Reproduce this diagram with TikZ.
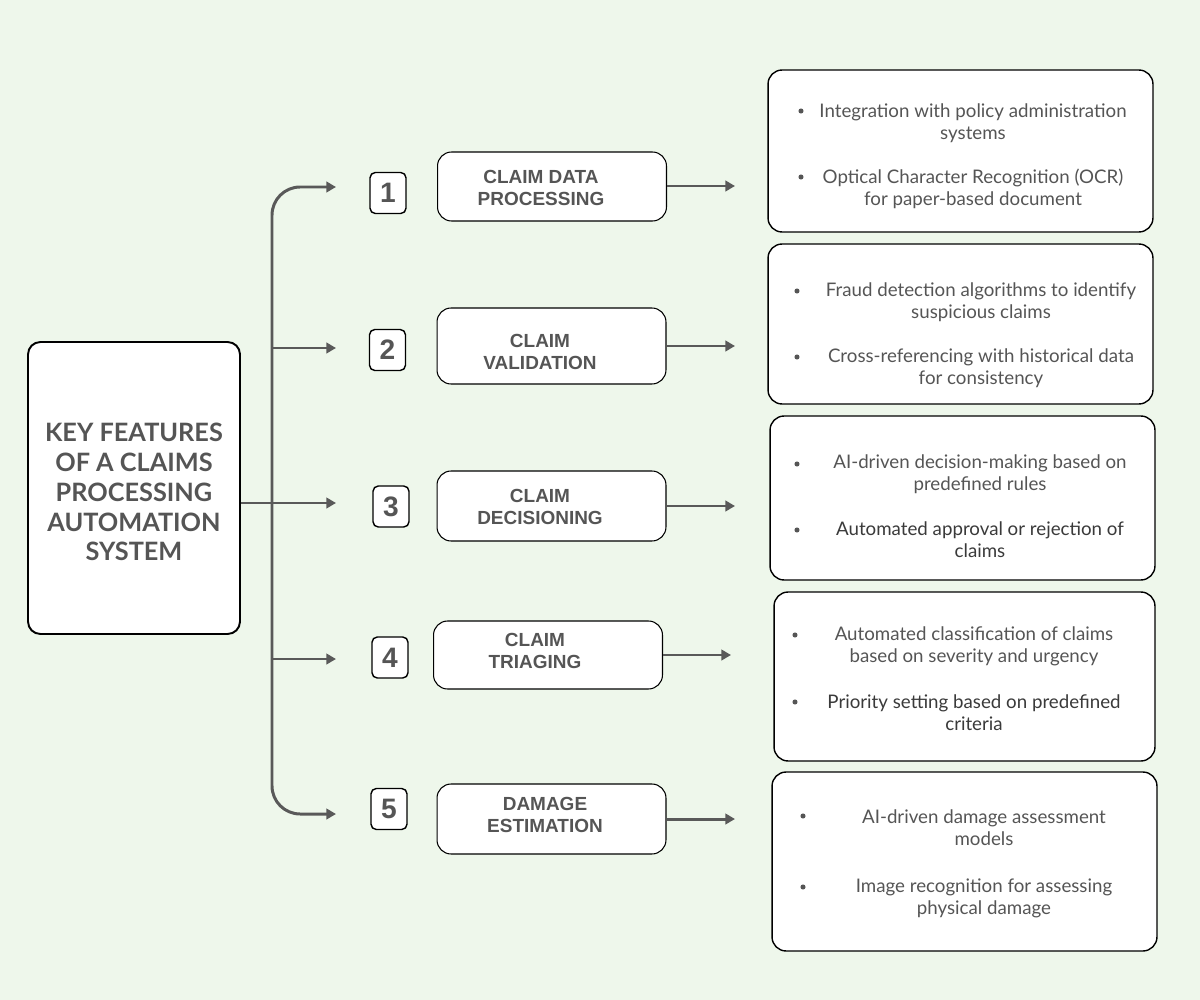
\documentclass[tikz,border=0pt]{standalone}
\usepackage{fontspec}
\setmainfont{Lato}
\newfontfamily\labfont{Liberation Sans}
\usetikzlibrary{arrows.meta}
\definecolor{bgc}{HTML}{EEF7EB}
\definecolor{linec}{HTML}{595959}
\definecolor{txtc}{HTML}{555555}
\definecolor{txtd}{HTML}{3A3A3A}
\tikzset{
  px/.style={x=0.02cm,y=-0.02cm},
  mainbox/.style={draw=black,line width=1.1pt,fill=white,rounded corners=7pt,minimum width=4.24cm,minimum height=5.84cm,inner sep=0pt},
  numbox/.style={draw=black,line width=0.8pt,fill=white,rounded corners=3pt,minimum width=0.72cm,minimum height=0.82cm,inner sep=0pt,text=txtc,font=\labfont\bfseries\fontsize{16}{18}\selectfont},
  labbox/.style={draw=black,line width=0.6pt,fill=white,rounded corners=8pt,minimum width=4.58cm,inner sep=0pt},
  labtxt/.style={text=txtc,align=center,font=\labfont\bfseries\fontsize{10.8}{12.5}\selectfont,inner sep=0pt},
  detbox/.style={draw=black,line width=0.8pt,fill=white,rounded corners=8pt,inner sep=0pt},
  btxt/.style={text=txtc,align=center,font=\fontsize{10.65}{12.6}\selectfont,inner sep=0pt},
  bdot/.style={circle,fill=txtc,minimum size=2.9pt,inner sep=0pt},
  conn/.style={draw=linec,line width=1.7pt,-{Triangle[length=5.5pt,width=6pt]}},
}
\begin{document}
\begin{tikzpicture}[px]
\fill[bgc] (0,0) rectangle (1200,1000);
\useasboundingbox (0,0) rectangle (1200,1000);

% main box
\node[mainbox] (main) at (134,488) {};
\node[text=txtc,align=center,font=\bfseries\fontsize{14.4}{17}\selectfont,inner sep=0pt] (maintxt) at (134,492) {KEY FEATURES\\OF A CLAIMS\\PROCESSING\\AUTOMATION\\SYSTEM};

% number boxes
\node[numbox] (n1) at (388,193) {1};
\node[numbox] (n2) at (387.5,350) {2};
\node[numbox] (n3) at (391,506.5) {3};
\node[numbox] (n4) at (390,657.5) {4};
\node[numbox] (n5) at (389,809) {5};

% label boxes
\node[labbox,minimum height=1.38cm] (l1) at (552,186.5) {};
\node[labbox,minimum height=1.52cm] (l2) at (551.5,346) {};
\node[labbox,minimum height=1.40cm] (l3) at (551.5,506) {};
\node[labbox,minimum height=1.36cm] (l4) at (548,655) {};
\node[labbox,minimum height=1.40cm] (l5) at (551.5,819) {};
\node[labtxt] (t1) at (541,188) {CLAIM DATA\\PROCESSING};
\node[labtxt] (t2) at (540,352) {CLAIM\\VALIDATION};
\node[labtxt] (t3) at (540,507) {CLAIM\\DECISIONING};
\node[labtxt] (t4) at (535,651) {CLAIM\\TRIAGING};
\node[labtxt] (t5) at (545,815) {DAMAGE\\ESTIMATION};

% detail boxes
\node[detbox,minimum width=7.7cm,minimum height=3.24cm] (d1) at (960.5,151) {};
\node[detbox,minimum width=7.7cm,minimum height=3.20cm] (d2) at (960.5,324) {};
\node[detbox,minimum width=7.7cm,minimum height=3.28cm] (d3) at (962.5,498) {};
\node[detbox,minimum width=7.62cm,minimum height=3.38cm] (d4) at (964.5,676.5) {};
\node[detbox,minimum width=7.7cm,minimum height=3.58cm] (d5) at (964.5,861.5) {};

% bullets box 1
\node[bdot] (b11) at (801,111) {};
\node[btxt] (x11) at (973,123) {Integration with policy administration\\systems};
\node[bdot] (b12) at (801,177) {};
\node[btxt] (x12) at (973,189) {Optical Character Recognition (OCR)\\for paper-based document};
% box 2
\node[bdot] (b21) at (797,291) {};
\node[btxt] (x21) at (981,302) {Fraud detection algorithms to identify\\suspicious claims};
\node[bdot] (b22) at (797,357) {};
\node[btxt] (x22) at (981,368) {Cross-referencing with historical data\\for consistency};
% box 3
\node[bdot] (b31) at (797,464) {};
\node[btxt] (x31) at (980,474) {AI-driven decision-making based on\\predefined rules};
\node[bdot] (b32) at (797,530) {};
\node[btxt,text=txtd] (x32) at (980,540) {Automated approval or rejection of\\claims};
% box 4
\node[bdot] (b41) at (795,635) {};
\node[btxt] (x41) at (974,646) {Automated classification of claims\\based on severity and urgency};
\node[bdot] (b42) at (795,702) {};
\node[btxt,text=txtd] (x42) at (974,713) {Priority setting based on predefined\\criteria};
% box 5
\node[bdot] (b51) at (803,816) {};
\node[btxt] (x51) at (984,828) {AI-driven damage assessment\\models};
\node[bdot] (b52) at (803,887) {};
\node[btxt] (x52) at (984,898) {Image recognition for assessing\\physical damage};

% connectors
\coordinate (a1) at (336,187);
\coordinate (a2) at (336,348);
\coordinate (a3) at (336,503);
\coordinate (a4) at (336,659);
\coordinate (a5) at (336,814);
\coordinate (j)  at (272,503);
\coordinate (j2) at (272,348);
\coordinate (j4) at (272,659);
\draw[conn,rounded corners=16pt] (j) |- (a1);
\draw[conn,rounded corners=16pt] (j) |- (a5);
\draw[conn] (j2) -- (a2);
\draw[conn] (j4) -- (a4);
\draw[conn] (main.east |- a3) -- (a3);

\coordinate (e1) at (735,186);
\coordinate (e2) at (735,346);
\coordinate (e3) at (735,506);
\coordinate (e4) at (731,655);
\coordinate (e5) at (735,819);
\draw[conn] (l1.east |- e1) -- (e1);
\draw[conn] (l2.east |- e2) -- (e2);
\draw[conn] (l3.east |- e3) -- (e3);
\draw[conn] (l4.east |- e4) -- (e4);
\draw[conn] (l5.east |- e5) -- (e5);
\end{tikzpicture}
\end{document}
